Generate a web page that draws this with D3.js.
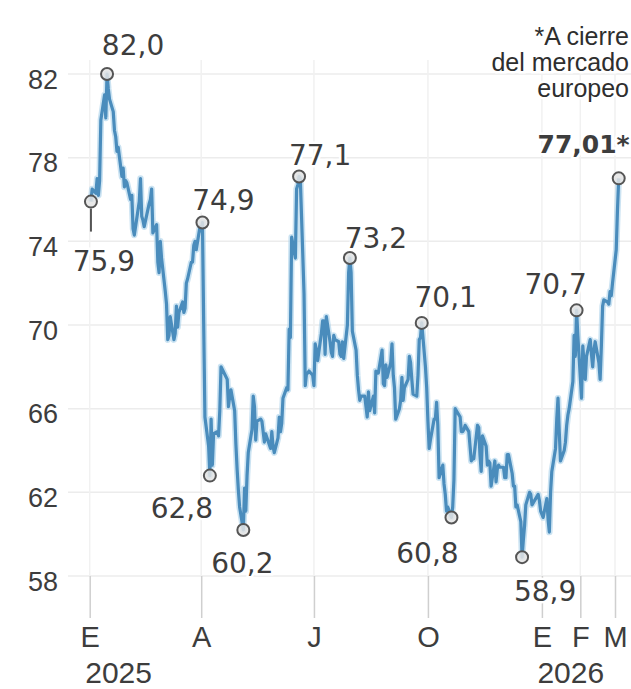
<!DOCTYPE html>
<html><head><meta charset="utf-8">
<script src="https://cdn.jsdelivr.net/npm/d3@7"></script>
<style>body{margin:0;background:#fff;overflow:hidden}</style>
</head><body><svg id="c" width="631" height="689"></svg>
<script>
// ---- DATA ----
const priceDates = [
"2025-01-02","2025-01-03","2025-01-06","2025-01-07","2025-01-08","2025-01-09","2025-01-10","2025-01-13","2025-01-14","2025-01-15",
"2025-01-16","2025-01-17","2025-01-20","2025-01-21","2025-01-22","2025-01-23","2025-01-24","2025-01-27","2025-01-28","2025-01-29",
"2025-01-30","2025-01-31","2025-02-03","2025-02-04","2025-02-05","2025-02-06","2025-02-07","2025-02-10","2025-02-11","2025-02-12",
"2025-02-13","2025-02-14","2025-02-18","2025-02-19","2025-02-20","2025-02-21","2025-02-24","2025-02-25","2025-02-26","2025-02-27",
"2025-02-28","2025-03-03","2025-03-04","2025-03-05","2025-03-06","2025-03-07","2025-03-10","2025-03-11","2025-03-12","2025-03-13",
"2025-03-14","2025-03-17","2025-03-18","2025-03-19","2025-03-20","2025-03-21","2025-03-24","2025-03-25","2025-03-26","2025-03-27",
"2025-03-28","2025-03-31","2025-04-01","2025-04-02","2025-04-03","2025-04-04","2025-04-07","2025-04-08","2025-04-09","2025-04-10",
"2025-04-11","2025-04-14","2025-04-15","2025-04-16","2025-04-17","2025-04-22","2025-04-23","2025-04-24","2025-04-25","2025-04-28",
"2025-04-29","2025-04-30","2025-05-01","2025-05-02","2025-05-05","2025-05-06","2025-05-07","2025-05-08","2025-05-09","2025-05-12",
"2025-05-13","2025-05-14","2025-05-15","2025-05-16","2025-05-19","2025-05-20","2025-05-21","2025-05-22","2025-05-23","2025-05-27",
"2025-05-28","2025-05-29","2025-05-30","2025-06-02","2025-06-03","2025-06-04","2025-06-05","2025-06-06","2025-06-09","2025-06-10",
"2025-06-11","2025-06-12","2025-06-13","2025-06-16","2025-06-17","2025-06-18","2025-06-19","2025-06-20","2025-06-23","2025-06-24",
"2025-06-25","2025-06-26","2025-06-27","2025-06-30","2025-07-01","2025-07-02","2025-07-03","2025-07-04","2025-07-07","2025-07-08",
"2025-07-09","2025-07-10","2025-07-11","2025-07-14","2025-07-15","2025-07-16","2025-07-17","2025-07-18","2025-07-21","2025-07-22",
"2025-07-23","2025-07-24","2025-07-25","2025-07-28","2025-07-29","2025-07-30","2025-07-31","2025-08-01","2025-08-04","2025-08-05",
"2025-08-06","2025-08-07","2025-08-08","2025-08-11","2025-08-12","2025-08-13","2025-08-14","2025-08-15","2025-08-18","2025-08-19",
"2025-08-20","2025-08-21","2025-08-22","2025-08-25","2025-08-26","2025-08-27","2025-08-28","2025-08-29","2025-09-01","2025-09-02",
"2025-09-03","2025-09-04","2025-09-05","2025-09-08","2025-09-09","2025-09-10","2025-09-11","2025-09-12","2025-09-15","2025-09-16",
"2025-09-17","2025-09-18","2025-09-19","2025-09-22","2025-09-23","2025-09-24","2025-09-25","2025-09-26","2025-09-29","2025-09-30",
"2025-10-01","2025-10-02","2025-10-03","2025-10-06","2025-10-07","2025-10-08","2025-10-09","2025-10-10","2025-10-13","2025-10-14",
"2025-10-15","2025-10-16","2025-10-17","2025-10-20","2025-10-21","2025-10-22","2025-10-23","2025-10-24","2025-10-27","2025-10-28",
"2025-10-29","2025-10-30","2025-10-31","2025-11-03","2025-11-04","2025-11-05","2025-11-06","2025-11-07","2025-11-10","2025-11-11",
"2025-11-12","2025-11-13","2025-11-14","2025-11-17","2025-11-18","2025-11-19","2025-11-20","2025-11-21","2025-11-24","2025-11-25",
"2025-11-26","2025-11-27","2025-11-28","2025-12-01","2025-12-02","2025-12-03","2025-12-04","2025-12-05","2025-12-08","2025-12-09",
"2025-12-10","2025-12-11","2025-12-12","2025-12-15","2025-12-16","2025-12-17","2025-12-18","2025-12-19","2025-12-22","2025-12-23",
"2025-12-24","2025-12-29","2025-12-30","2025-12-31","2026-01-02","2026-01-05","2026-01-06","2026-01-07","2026-01-08","2026-01-09",
"2026-01-12","2026-01-13","2026-01-14","2026-01-15","2026-01-16","2026-01-19","2026-01-20","2026-01-21","2026-01-22","2026-01-23",
"2026-01-26","2026-01-27","2026-01-28","2026-01-29","2026-01-30","2026-02-02","2026-02-03","2026-02-04","2026-02-05","2026-02-06",
"2026-02-09","2026-02-10","2026-02-11","2026-02-12","2026-02-13","2026-02-16","2026-02-17","2026-02-18","2026-02-19","2026-02-20",
"2026-02-23","2026-02-24","2026-02-25","2026-02-26","2026-02-27","2026-03-02","2026-03-03","2026-03-04"
];
const priceValues = [
75.9,76.5,76.3,77.0,76.2,76.9,79.8,81.0,79.9,82.0,
81.3,80.8,80.2,79.3,79.0,78.3,78.5,77.1,77.5,76.6,
76.9,76.8,76.0,76.2,74.6,74.3,74.7,75.9,77.0,75.2,
75.0,74.7,75.8,76.0,76.5,74.4,74.8,73.0,72.5,74.0,
73.2,71.6,71.0,69.3,69.5,70.4,69.3,69.6,70.9,69.9,
70.6,71.1,70.6,70.8,72.0,72.2,73.0,73.0,73.8,74.0,
73.6,74.7,74.5,74.9,70.1,65.6,64.2,62.8,65.5,63.3,
64.8,64.9,64.7,65.9,68.0,67.4,66.1,66.6,66.9,65.9,
64.3,63.1,62.1,61.3,60.2,62.2,61.1,62.8,63.9,65.0,
66.6,66.1,64.5,65.4,65.5,65.4,64.9,64.4,64.8,64.1,
64.9,64.2,63.9,64.6,65.6,64.9,65.3,66.5,67.0,66.9,
69.8,69.4,74.2,73.2,76.5,76.7,77.1,77.0,71.5,67.1,
67.7,67.7,67.8,67.6,67.1,69.1,68.8,68.3,69.6,70.2,
70.2,68.6,70.4,69.2,68.7,68.5,69.5,69.3,69.2,68.6,
68.5,69.2,68.4,70.0,72.5,73.2,72.5,69.7,68.8,67.6,
66.9,66.4,66.6,66.6,66.1,65.6,66.8,65.9,66.6,65.8,
67.8,67.7,67.7,68.8,67.2,67.1,68.1,67.5,68.2,69.1,
67.6,67.0,65.5,66.0,66.4,67.5,66.4,67.0,67.4,68.5,
68.2,67.4,66.7,66.6,67.6,69.3,69.4,70.1,68.0,67.0,
65.4,64.1,64.5,65.5,65.5,66.3,65.2,62.7,63.3,62.4,
61.9,61.1,61.3,60.8,61.3,62.6,66.0,65.9,65.6,64.9,
64.9,65.0,65.2,64.9,64.2,63.5,63.6,63.6,65.2,65.1,
63.8,63.0,64.7,64.2,63.3,63.5,63.4,62.3,63.5,62.5,
63.1,63.3,63.2,63.2,62.7,62.7,63.8,63.8,62.9,62.3,
62.3,61.3,61.4,60.6,58.9,59.7,60.4,61.4,62.0,61.9,
61.4,61.9,61.6,61.1,60.8,61.7,60.7,60.1,62.0,63.0,
64.1,65.5,66.5,64.9,63.5,64.0,64.4,65.2,65.7,66.0,
67.3,69.5,68.5,70.7,69.5,66.5,69.0,68.2,67.4,68.5,
69.3,68.6,68.0,68.8,69.2,68.2,67.4,69.0,70.9,71.2,
71.1,71.0,71.6,71.4,72.0,73.6,75.5,77.01
];
const yTicks = [58, 62, 66, 70, 74, 78, 82];
const xTickDates = ["2025-01-01","2025-04-01","2025-07-01","2025-10-01","2026-01-01","2026-02-01","2026-03-01"];
const xTickLabels = ["E","A","J","O","E","F","M"];
const xYearLabels = ["2025","","","","2026","",""];
const annDates  = ["2025-01-02","2025-01-15","2025-04-02","2025-04-08","2025-05-05","2025-06-19","2025-07-30","2025-09-26","2025-10-20","2025-12-16","2026-01-29","2026-03-04"];
const annValues = [75.9, 82.0, 74.9, 62.8, 60.2, 77.1, 73.2, 70.1, 60.8, 58.9, 70.7, 77.01];
const annLabels = ["75,9","82,0","74,9","62,8","60,2","77,1","73,2","70,1","60,8","58,9","70,7","77,01*"];
const noteLines = ["*A cierre", "del mercado", "europeo"];

// ---- LAYOUT (offsets of labels from their points) ----
const annOffsets = [[13,69],[26,-19],[21,-13],[-28,42],[-1,43],[21,-11],[26,-10],[24,-16],[-24,46],[23,44],[-21,-16],[11,-25]];

const parse = d3.utcParse("%Y-%m-%d");
const series = priceDates.map((d, i) => ({date: parse(d), value: priceValues[i]}));
const anns = annDates.map((d, i) => ({date: parse(d), value: annValues[i], label: annLabels[i], off: annOffsets[i]}));

const svg = d3.select("#c");
const x = d3.scaleUtc().domain([parse("2025-01-01"), parse("2026-03-01")]).range([89.7, 615]);
const y = d3.scaleLinear().domain([58, 82]).range([576, 74]);

const tickFont = "'Liberation Sans', Arial, sans-serif";
const valFont = "'DejaVu Sans', Verdana, sans-serif";
const txt = "#3d3d3d";

// horizontal gridlines
svg.append("g").selectAll("line").data(yTicks).join("line")
  .attr("x1", 68).attr("x2", 631)
  .attr("y1", d => y(d)).attr("y2", d => y(d))
  .attr("stroke", "#ececec").attr("stroke-width", 1.5);

// vertical gridlines + axis ticks
const xTicks = xTickDates.map(parse);
svg.append("g").selectAll("line").data(xTicks).join("line")
  .attr("x1", d => x(d)).attr("x2", d => x(d))
  .attr("y1", 60).attr("y2", 576)
  .attr("stroke", "#f1f1f1").attr("stroke-width", 1.5);

const xAxis = d3.axisBottom(x).tickValues(xTicks).tickSize(42).tickPadding(0)
  .tickFormat((d, i) => xTickLabels[i]);
const gx = svg.append("g").attr("transform", `translate(0,${y(58)})`).call(xAxis);
gx.select(".domain").remove();
gx.selectAll(".tick line").attr("stroke", "#cfcfcf").attr("stroke-width", 1.5);
gx.selectAll(".tick text").attr("font-family", tickFont).attr("font-size", 29)
  .attr("fill", txt).attr("y", 71).attr("dy", 0);
gx.selectAll(".tick").append("text")
  .attr("x", -5).attr("y", 107).attr("text-anchor", "start")
  .attr("font-family", tickFont).attr("font-size", 30).attr("fill", txt)
  .text((d, i) => xYearLabels[i]);

// y tick labels
const yAxis = d3.axisLeft(y).tickValues(yTicks).tickSize(0).tickPadding(0).tickFormat(d3.format("d"));
const gy = svg.append("g").attr("transform", "translate(58,0)").call(yAxis);
gy.select(".domain").remove();
gy.selectAll(".tick text").attr("font-family", tickFont).attr("font-size", 27)
  .attr("fill", txt).attr("dy", "0.52em");

// note (top right)
svg.append("g").selectAll("text").data(noteLines).join("text")
  .attr("x", 629).attr("y", (d, i) => 45 + i * 26)
  .attr("text-anchor", "end")
  .attr("font-family", tickFont)
  .attr("font-size", 25).attr("fill", "#2e2e2e")
  .attr("stroke", "#fff").attr("stroke-width", 5).attr("paint-order", "stroke")
  .text(d => d);

// line
const line = d3.line().x(d => x(d.date)).y(d => y(d.value));
svg.append("path").datum(series).attr("d", line)
  .attr("fill", "none").attr("stroke", "#a9d0ea").attr("stroke-width", 6.5)
  .attr("stroke-linejoin", "round").attr("opacity", 0.6);
svg.append("path").datum(series).attr("d", line)
  .attr("fill", "none").attr("stroke", "#4a8cbc").attr("stroke-width", 3.2)
  .attr("stroke-linejoin", "round");

// leader for first label
svg.append("line").datum(anns[0])
  .attr("x1", d => x(d.date)).attr("x2", d => x(d.date))
  .attr("y1", d => y(d.value) + 7).attr("y2", d => y(d.value) + 30)
  .attr("stroke", "#555").attr("stroke-width", 2);

// circles
svg.append("g").selectAll("circle").data(anns).join("circle")
  .attr("cx", d => x(d.date)).attr("cy", d => y(d.value)).attr("r", 6)
  .attr("fill", "#e4e4e4").attr("fill-opacity", 0.85)
  .attr("stroke", "#555").attr("stroke-width", 2);

// value labels
svg.append("g").selectAll("text").data(anns).join("text")
  .attr("x", d => x(d.date) + d.off[0]).attr("y", d => y(d.value) + d.off[1])
  .attr("text-anchor", (d, i) => i === anns.length - 1 ? "end" : "middle")
  .attr("font-family", valFont)
  .attr("font-weight", (d, i) => i === anns.length - 1 ? "bold" : "normal")
  .attr("font-size", (d, i) => i === anns.length - 1 ? 25 : 28)
  .attr("fill", txt)
  .attr("stroke", "#fff").attr("stroke-width", 5).attr("paint-order", "stroke")
  .text(d => d.label);
</script>
</body></html>
